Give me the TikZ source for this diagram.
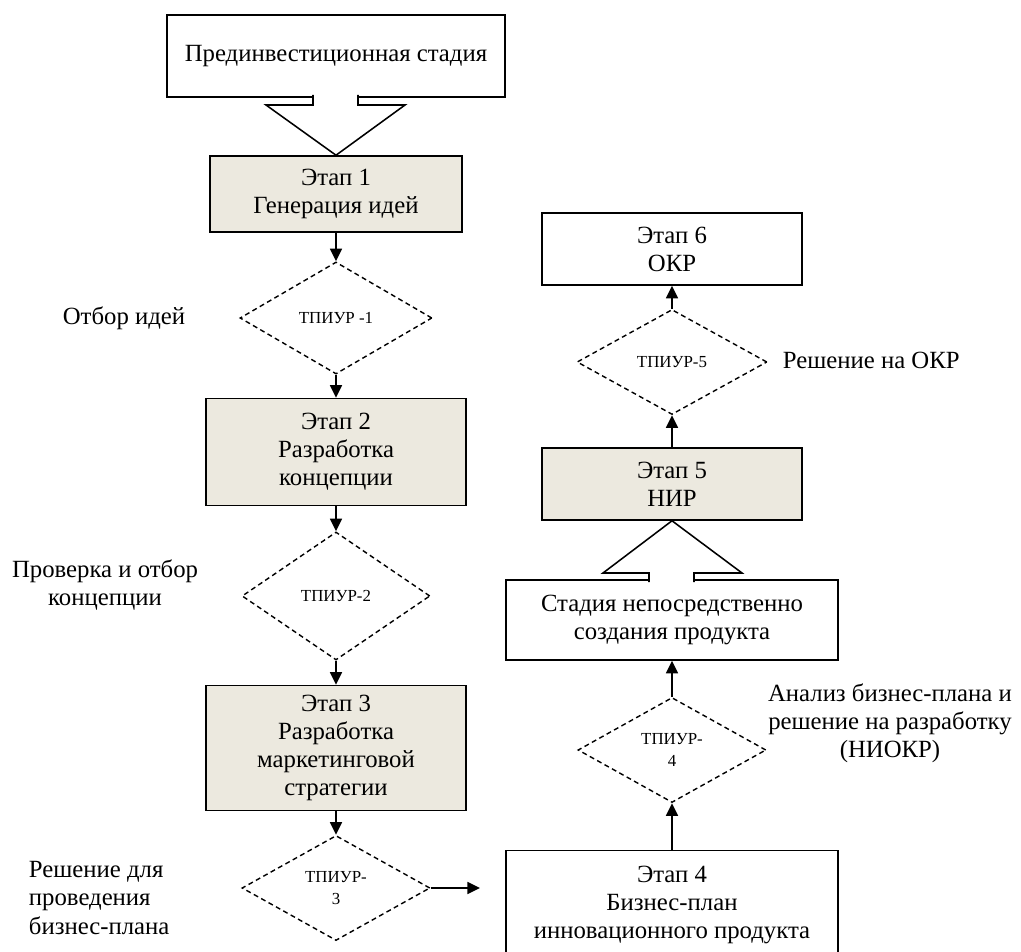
\documentclass[tikz,border=0pt]{standalone}
\usepackage{fontspec}
\setmainfont{Liberation Serif}
\usetikzlibrary{shapes.geometric,arrows.meta}
\definecolor{etapfill}{HTML}{ECE9DF}
\begin{document}
\begin{tikzpicture}[x=0.025cm,y=-0.025cm,
  box/.style={draw, line width=1.1pt, align=center, inner sep=0pt, font=\fontsize{17.6}{20}\selectfont},
  etap/.style={box, fill=etapfill},
  tpiur/.style={diamond, draw, dash pattern=on 3.5pt off 2.5pt, line width=1pt, inner sep=0pt, align=center, font=\fontsize{12}{16}\selectfont},
  lbl/.style={align=center, font=\fontsize{17.6}{20}\selectfont},
  arr/.style={-{Triangle[length=9pt,width=8.5pt]}, line width=1.3pt}]
\clip (0,0) rectangle (1021,952);
% left column
\node[box, minimum width=8.45cm, minimum height=2.05cm] (pre) at (336,56) {Прединвестиционная стадия};
\node[etap, minimum width=6.3cm, minimum height=1.9cm] (e1) at (336,194) {Этап 1\\Генерация идей};
\path[draw, fill=white, line width=1.1pt] (313,95) -- (313,105) -- (266,105) -- (e1.north) -- (405,105) -- (358,105) -- (358,95);
\node[tpiur, minimum width=4.8cm, minimum height=2.8cm] (d1) at (336,318) {ТПИУР -1};
\node[etap, minimum width=6.5cm, minimum height=2.675cm] (e2) at (336,452) {Этап 2\\Разработка\\концепции};
\node[tpiur, minimum width=4.7cm, minimum height=3.2cm] (d2) at (336,596) {ТПИУР-2};
\node[etap, minimum width=6.5cm, minimum height=3.125cm] (e3) at (336,748) {Этап 3\\Разработка\\маркетинговой\\стратегии};
\node[tpiur, minimum width=4.7cm, minimum height=2.625cm] (d3) at (336,888) {ТПИУР-\\3};
\draw[arr] (e1) -- (d1);
\draw[arr] (d1) -- (e2);
\draw[arr] (e2) -- (d2);
\draw[arr] (d2) -- (e3);
\draw[arr] (e3) -- (d3);
% right column
\node[box, minimum width=8.3cm, minimum height=2.725cm] (e4) at (672,905) {Этап 4\\Бизнес-план\\инновационного продукта};
\coordinate (e4w) at (480,888);
\draw[arr] (d3) -- (e4w);
\node[tpiur, minimum width=4.7cm, minimum height=2.625cm] (d4) at (672,750) {ТПИУР-\\4};
\node[box, minimum width=8.3cm, minimum height=2cm] (st) at (672,620) {Стадия непосредственно\\создания продукта};
\node[etap, minimum width=6.5cm, minimum height=1.8cm] (e5) at (672,484) {Этап 5\\НИР};
\path[draw, fill=white, line width=1.1pt] (649,582) -- (649,573) -- (603,573) -- (e5.south) -- (742,573) -- (694,573) -- (694,582);
\node[tpiur, minimum width=4.75cm, minimum height=2.625cm] (d5) at (672,362) {ТПИУР-5};
\node[box, minimum width=6.5cm, minimum height=1.8cm] (e6) at (672,249) {Этап 6\\ОКР};
\draw[arr] (e4) -- (d4);
\draw[arr] (d4) -- (st);
\draw[arr] (e5) -- (d5);
\draw[arr] (d5) -- (e6);
% labels
\node[lbl] (l1) at (124,318) {Отбор идей};
\node[lbl] (l2) at (105,585) {Проверка и отбор\\концепции};
\node[lbl, align=left, anchor=west] (l3) at (24,898) {Решение для\\проведения\\бизнес-плана};
\node[lbl, anchor=west] (l5) at (778,360) {Решение на ОКР};
\node[lbl] (l4) at (890,723) {Анализ бизнес-плана и\\решение на разработку\\(НИОКР)};
\end{tikzpicture}
\end{document}
